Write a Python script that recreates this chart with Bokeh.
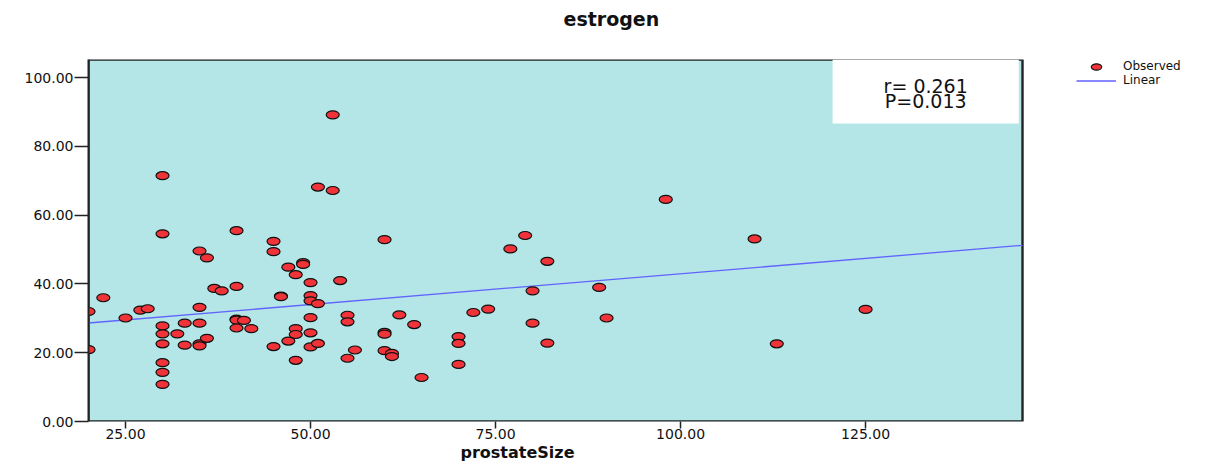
from bokeh.plotting import figure
from bokeh.models import (ColumnDataSource, Legend, LegendItem, Label, BoxAnnotation,
                          FixedTicker, NumeralTickFormatter, Range1d, Title)
from bokeh.embed import file_html
from bokeh.resources import INLINE

# ---- data ----
prostate_size = [20, 20, 22, 25, 27, 28,
                 30, 30, 30, 30, 30, 30, 30, 30,
                 32, 33, 33, 35, 35, 35, 35, 35, 36, 36, 37, 38,
                 40, 40, 40, 40, 40, 41, 42,
                 45, 45, 45, 46, 46, 47, 47, 48, 48, 48, 48, 49, 49,
                 50, 50, 50, 50, 50, 50, 51, 51, 51, 53, 53, 54,
                 55, 55, 55, 56, 60, 60, 60, 60, 61, 61, 62, 64, 65,
                 70, 70, 70, 72, 74, 77, 79, 80, 80, 82, 82, 89, 90,
                 98, 110, 113, 125]
estrogen = [32.0, 20.9, 36.0, 30.1, 32.4, 32.8,
            71.5, 54.6, 27.8, 25.5, 22.6, 17.1, 14.3, 10.8,
            25.5, 28.6, 22.2, 49.6, 33.2, 28.6, 22.6, 22.0, 47.6, 24.2, 38.7, 38.0,
            55.5, 39.3, 29.8, 29.5, 27.2, 29.4, 27.0,
            52.4, 49.4, 21.8, 36.5, 36.3, 44.9, 23.4, 42.7, 27.0, 25.3, 17.8, 46.2, 45.7,
            40.4, 36.6, 35.1, 30.2, 25.8, 21.7, 34.3, 22.7, 68.2, 89.2, 67.2, 41.0,
            30.9, 29.0, 18.4, 20.8, 52.9, 25.9, 25.4, 20.6, 19.8, 18.9, 31.0, 28.2, 12.8,
            24.7, 22.7, 16.6, 31.7, 32.7, 50.2, 54.1, 38.0, 28.6, 46.6, 22.8, 39.0, 30.1,
            64.6, 53.1, 22.6, 32.6]
x_ticks = [25, 50, 75, 100, 125]
y_ticks = [0, 20, 40, 60, 80, 100]
stats_lines = ["r= 0.261", "P=0.013"]

# linear fit line
fit_intercept = 25.07
fit_slope = 0.179

# plot-area extent (data units)
x_lo, x_hi = 20, 146.2
y_lo, y_hi = 0, 105.3

# layout (pixels)
W, H = 1224, 467
LEFT, TOP, BOTTOM = 88, 59, 46
AREA_W = 934                       # pixel width of the cyan plot area
FRAME_W = W - LEFT                 # frame extends to the right edge so the legend is not clipped
x_view_hi = x_lo + (x_hi - x_lo) * FRAME_W / AREA_W

fit_x = [x_lo, x_hi]
fit_y = [fit_intercept + fit_slope * v for v in fit_x]

FONT = "DejaVu Sans"
INK = "#111111"
EDGE = "#222222"

p = figure(width=W, height=H, output_backend="svg", toolbar_location=None, title=None,
           x_range=Range1d(x_lo, x_view_hi), y_range=Range1d(y_lo, y_hi),
           min_border_left=LEFT, min_border_right=0, min_border_top=TOP, min_border_bottom=BOTTOM)
p.background_fill_color = "white"
p.border_fill_color = "white"
p.outline_line_color = None
p.grid.visible = False

# cyan plot area with dark outline
p.add_layout(BoxAnnotation(left=x_lo, right=x_hi, bottom=y_lo, top=y_hi, level="underlay",
                           fill_color="#b4e6e7", fill_alpha=1.0,
                           line_color=EDGE, line_alpha=1.0, line_width=2.4))

# spacer (nearest to frame) then the visible title
p.add_layout(Title(text=" ", text_font_size="1px", standoff=27), "above")
p.add_layout(Title(text="estrogen", align="left", offset=475, standoff=0,
                   text_font=FONT, text_font_size="19px", text_font_style="bold",
                   text_color=INK), "above")

for ax in (p.xaxis[0], p.yaxis[0]):
    ax.axis_line_color = EDGE
    ax.axis_line_width = 2
    ax.major_tick_line_color = EDGE
    ax.major_tick_line_width = 1.5
    ax.major_tick_in = 0
    ax.minor_tick_line_color = None
    ax.major_label_text_font = FONT
    ax.major_label_text_font_size = "14px"
    ax.major_label_text_color = INK
    ax.formatter = NumeralTickFormatter(format="0.00")

p.xaxis.axis_line_color = None
p.xaxis.ticker = FixedTicker(ticks=x_ticks)
p.yaxis.ticker = FixedTicker(ticks=y_ticks)
p.xaxis.major_tick_out = 7
p.yaxis.major_tick_out = 14
p.xaxis.major_label_standoff = 0
p.yaxis.major_label_standoff = 1

# x axis title, positioned under the plot area
p.add_layout(Title(text="prostateSize", align="left", offset=372, standoff=2, vertical_align="top",
                   text_font=FONT, text_font_size="16px", text_font_style="bold",
                   text_color=INK), "below")

src = ColumnDataSource(dict(x=prostate_size, y=estrogen))
line_r = p.line(fit_x, fit_y, line_color="#6262ff", line_width=1.3)
pts_r = p.ellipse("x", "y", width=13, height=8, width_units="screen", height_units="screen",
                  source=src, fill_color="#f03339", line_color=INK, line_width=1.2)

box_left, box_right, box_bottom = 120.54, 145.7, 86.7
p.add_layout(BoxAnnotation(left=box_left, right=box_right, bottom=box_bottom, top=y_hi,
                           fill_color="white", fill_alpha=1.0, line_color=None))
box_cx = (box_left + box_right) / 2
p.add_layout(Label(x=box_cx, y=97.6, text=stats_lines[0], text_align="center", text_baseline="middle",
                   text_font=FONT, text_font_size="19px", text_color=INK))
p.add_layout(Label(x=box_cx, y=93.1, text=stats_lines[1], text_align="center", text_baseline="middle",
                   text_font=FONT, text_font_size="19px", text_color=INK))

frame_h = H - TOP - BOTTOM
legend = Legend(items=[LegendItem(label="Observed", renderers=[pts_r]),
                       LegendItem(label="Linear", renderers=[line_r])],
                location=(1076 - LEFT, frame_h - 28), padding=0, spacing=0, margin=0,
                glyph_width=40, glyph_height=13, label_height=13, label_standoff=7,
                label_text_font=FONT, label_text_font_size="12px", label_text_color=INK,
                background_fill_alpha=0, border_line_color=None)
p.add_layout(legend, "center")

open("out.html", "w").write(file_html(p, INLINE))
